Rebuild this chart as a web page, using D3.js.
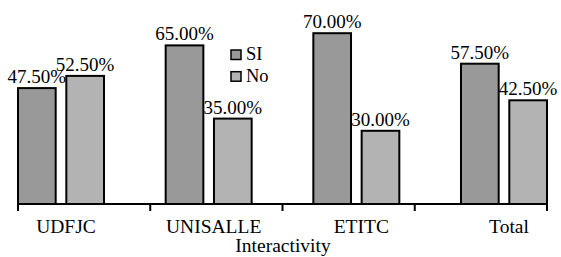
<!DOCTYPE html>
<html>
<head>
<meta charset="utf-8">
<script src="https://cdn.jsdelivr.net/npm/d3@7"></script>
<style>
  body { margin: 0; background: #fff; }
</style>
</head>
<body>
<div id="chart"></div>
<script>
var categories = ['UDFJC', 'UNISALLE', 'ETITC', 'Total'];
var seriesNames = ['SI', 'No'];
var siValues = [47.5, 65, 70, 57.5];
var noValues = [52.5, 35, 30, 42.5];
var seriesColors = ['#999999', '#b3b3b3'];

var width = 561, height = 257;
var baseY = 204;
var fontName = 'Liberation Serif';

var svg = d3.select('#chart').append('svg')
  .attr('width', width)
  .attr('height', height);

// groups of bars
var x0 = d3.scaleBand().domain(categories).range([18, 547]).paddingInner(0.4176).paddingOuter(0);
var x1 = d3.scaleBand().domain(seriesNames).range([0, x0.bandwidth()]).paddingInner(0.22);
// axis ticks sit on an even split of the same span
var xAxisScale = d3.scaleBand().domain(categories).range([18, 547]);
var y = d3.scaleLinear().domain([0, 80]).range([baseY, baseY - 195.2]);

var rows = categories.map(function (c, i) {
  return { cat: c, vals: [{ s: 'SI', v: siValues[i] }, { s: 'No', v: noValues[i] }] };
});

var group = svg.append('g').selectAll('g')
  .data(rows)
  .join('g')
  .attr('transform', function (d) { return 'translate(' + x0(d.cat) + ',0)'; });

group.selectAll('rect')
  .data(function (d) { return d.vals; })
  .join('rect')
  .attr('x', function (d) { return x1(d.s); })
  .attr('y', function (d) { return y(d.v); })
  .attr('width', x1.bandwidth())
  .attr('height', function (d) { return baseY - y(d.v); })
  .attr('fill', function (d, i) { return seriesColors[i]; })
  .attr('stroke', '#000')
  .attr('stroke-width', 2);

group.selectAll('text')
  .data(function (d) { return d.vals; })
  .join('text')
  .attr('x', function (d) { return x1(d.s) + x1.bandwidth() / 2; })
  .attr('y', function (d) { return y(d.v) - 5; })
  .attr('text-anchor', 'middle')
  .style('font-family', fontName)
  .style('font-size', '19px')
  .text(function (d) { return d.v.toFixed(2) + '%'; });

// x axis line and ticks
var axis = svg.append('g');
axis.append('line')
  .attr('x1', 18).attr('x2', 547)
  .attr('y1', baseY).attr('y2', baseY)
  .attr('stroke', '#000').attr('stroke-width', 2);

var tickPos = categories.map(function (c) { return xAxisScale(c); }).concat([547]);
axis.selectAll('.tick')
  .data(tickPos)
  .join('line')
  .attr('x1', function (d) { return d; }).attr('x2', function (d) { return d; })
  .attr('y1', baseY).attr('y2', baseY + 7)
  .attr('stroke', '#000').attr('stroke-width', 2);

axis.selectAll('.cat')
  .data(categories)
  .join('text')
  .attr('x', function (d) { return x0(d) + x0.bandwidth() / 2 + 5; })
  .attr('y', 233)
  .attr('text-anchor', 'middle')
  .style('font-family', fontName)
  .style('font-size', '19.5px')
  .text(function (d) { return d; });

svg.append('text')
  .attr('x', 283)
  .attr('y', 252)
  .attr('text-anchor', 'middle')
  .style('font-family', fontName)
  .style('font-size', '19.5px')
  .text('Interactivity');

// legend
var legend = svg.append('g').attr('transform', 'translate(231,50)');
var item = legend.selectAll('g')
  .data(seriesNames)
  .join('g')
  .attr('transform', function (d, i) { return 'translate(0,' + (i * 21.7) + ')'; });
item.append('rect')
  .attr('width', 10).attr('height', 9.5)
  .attr('fill', function (d, i) { return seriesColors[i]; })
  .attr('stroke', '#000').attr('stroke-width', 1.5);
item.append('text')
  .attr('x', 15).attr('y', 10)
  .style('font-family', fontName)
  .style('font-size', '18.5px')
  .text(function (d) { return d; });
</script>
</body>
</html>
